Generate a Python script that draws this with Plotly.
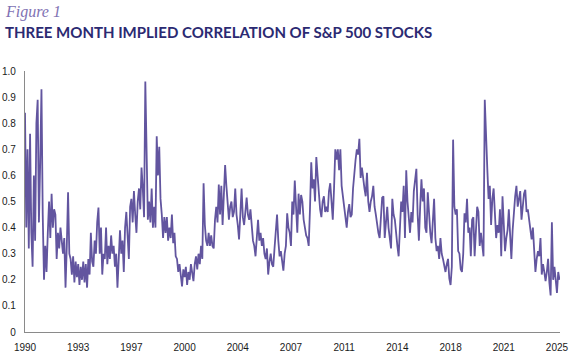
import pandas as pd
import plotly.graph_objects as go

# Monthly readings of the three-month implied correlation (Jan 1990 - Mar 2025)
values_1990s = [
    0.84, 0.40, 0.70, 0.32, 0.76, 0.38, 0.25, 0.60, 0.35, 0.80, 0.89, 0.42,   # 1990
    0.65, 0.93, 0.45, 0.20, 0.33, 0.23, 0.38, 0.50, 0.36, 0.53, 0.40, 0.47,   # 1991
    0.45, 0.28, 0.38, 0.32, 0.40, 0.33, 0.30, 0.36, 0.17, 0.33, 0.535, 0.30,  # 1992
    0.28, 0.22, 0.29, 0.19, 0.27, 0.21, 0.26, 0.18, 0.25, 0.20, 0.27, 0.19,   # 1993
    0.26, 0.17, 0.28, 0.22, 0.38, 0.27, 0.25, 0.35, 0.30, 0.42, 0.477, 0.30,  # 1994
    0.40, 0.22, 0.30, 0.28, 0.40, 0.26, 0.33, 0.28, 0.37, 0.30, 0.33, 0.25,   # 1995
    0.30, 0.17, 0.28, 0.39, 0.30, 0.35, 0.23, 0.40, 0.46, 0.35, 0.28, 0.48,   # 1996
    0.51, 0.42, 0.54, 0.45, 0.38, 0.50, 0.55, 0.47, 0.63, 0.55, 0.44, 0.96,   # 1997
    0.66, 0.43, 0.50, 0.42, 0.55, 0.40, 0.48, 0.40, 0.75, 0.60, 0.71, 0.51,   # 1998
    0.45, 0.36, 0.44, 0.38, 0.44, 0.35, 0.40, 0.36, 0.45, 0.34, 0.38, 0.29,   # 1999
]
values_2000s = [
    0.28, 0.23, 0.26, 0.20, 0.175, 0.24, 0.21, 0.25, 0.18, 0.23, 0.20, 0.26,  # 2000
    0.22, 0.195, 0.26, 0.29, 0.24, 0.30, 0.26, 0.33, 0.28, 0.57, 0.41, 0.35,  # 2001
    0.33, 0.38, 0.33, 0.37, 0.33, 0.32, 0.43, 0.48, 0.42, 0.565, 0.45, 0.56,  # 2002
    0.41, 0.52, 0.64, 0.56, 0.47, 0.43, 0.48, 0.50, 0.44, 0.46, 0.55, 0.45,   # 2003
    0.41, 0.355, 0.45, 0.55, 0.44, 0.41, 0.46, 0.515, 0.45, 0.43, 0.47, 0.40, # 2004
    0.35, 0.33, 0.29, 0.36, 0.43, 0.35, 0.38, 0.33, 0.36, 0.30, 0.28, 0.32,   # 2005
    0.22, 0.27, 0.30, 0.26, 0.25, 0.32, 0.38, 0.45, 0.35, 0.29, 0.31, 0.26,   # 2006
    0.235, 0.30, 0.33, 0.455, 0.40, 0.38, 0.33, 0.50, 0.45, 0.58, 0.45, 0.38, # 2007
    0.53, 0.45, 0.525, 0.50, 0.43, 0.40, 0.37, 0.36, 0.33, 0.47, 0.65, 0.55,  # 2008
    0.585, 0.50, 0.67, 0.60, 0.53, 0.47, 0.44, 0.50, 0.52, 0.46, 0.48, 0.46,  # 2009
]
values_2010s = [
    0.54, 0.57, 0.50, 0.43, 0.55, 0.70, 0.66, 0.70, 0.62, 0.70, 0.56, 0.52,   # 2010
    0.50, 0.45, 0.40, 0.46, 0.49, 0.44, 0.45, 0.55, 0.62, 0.66, 0.70, 0.68,   # 2011
    0.74, 0.59, 0.63, 0.58, 0.55, 0.52, 0.61, 0.50, 0.46, 0.50, 0.52, 0.56,   # 2012
    0.48, 0.45, 0.40, 0.38, 0.36, 0.46, 0.515, 0.52, 0.36, 0.42, 0.48, 0.40,  # 2013
    0.36, 0.32, 0.51, 0.45, 0.43, 0.37, 0.33, 0.29, 0.40, 0.50, 0.46, 0.56,   # 2014
    0.36, 0.62, 0.50, 0.45, 0.38, 0.46, 0.42, 0.54, 0.58, 0.625, 0.45, 0.35,  # 2015
    0.48, 0.585, 0.50, 0.55, 0.40, 0.38, 0.535, 0.45, 0.38, 0.34, 0.45, 0.51, # 2016
    0.36, 0.31, 0.33, 0.28, 0.36, 0.30, 0.28, 0.25, 0.23, 0.26, 0.28, 0.205,  # 2017
    0.18, 0.25, 0.737, 0.48, 0.45, 0.47, 0.31, 0.30, 0.24, 0.23, 0.30, 0.455, # 2018
    0.42, 0.51, 0.38, 0.40, 0.29, 0.43, 0.44, 0.29, 0.40, 0.48, 0.46, 0.33,   # 2019
]
values_2020s = [
    0.38, 0.33, 0.29, 0.89, 0.73, 0.625, 0.51, 0.56, 0.41, 0.51, 0.55, 0.42,  # 2020
    0.36, 0.41, 0.38, 0.47, 0.29, 0.52, 0.40, 0.31, 0.36, 0.39, 0.47, 0.35,   # 2021
    0.28, 0.39, 0.47, 0.52, 0.56, 0.48, 0.51, 0.54, 0.43, 0.50, 0.53, 0.545,  # 2022
    0.46, 0.47, 0.43, 0.40, 0.355, 0.40, 0.30, 0.23, 0.28, 0.31, 0.29, 0.36,  # 2023
    0.22, 0.26, 0.23, 0.195, 0.23, 0.28, 0.19, 0.14, 0.42, 0.20, 0.25, 0.19,  # 2024
    0.15, 0.23, 0.20,                                                         # 2025
]
correlation = values_1990s + values_2000s + values_2010s + values_2020s

dates = pd.date_range("1990-01-01", periods=len(correlation), freq="MS")
decimal_years = dates.year + (dates.month - 1) / 12.0

x_tick_values = [1990, 1993.5, 1997, 2000.5, 2004, 2007.5, 2011, 2014.5, 2018, 2021.5, 2025]
x_tick_labels = ["1990", "1993", "1997", "2000", "2004", "2007", "2011", "2014", "2018", "2021", "2025"]
y_tick_values = [0, 0.1, 0.2, 0.3, 0.4, 0.5, 0.6, 0.7, 0.8, 0.9, 1.0]
y_tick_labels = ["0", "0.1", "0.2", "0.3", "0.4", "0.5", "0.6", "0.7", "0.8", "0.9", "1.0"]

W, H = 573, 357
L, R, T, B = 25, 13, 71, 24.5
pw, ph = W - L - R, H - T - B


def px(x):
    return (x - L) / pw


def py(y):
    return (H - B - y) / ph


fig = go.Figure()
fig.add_trace(go.Scatter(
    x=decimal_years, y=correlation, mode="lines",
    line=dict(color="#62559F", width=1.8),
    hoverinfo="skip",
))

fig.update_layout(
    width=W, height=H,
    margin=dict(l=L, r=R, t=T, b=B),
    paper_bgcolor="white", plot_bgcolor="white",
    showlegend=False,
    font=dict(family="Liberation Sans, Arial, sans-serif", size=10, color="#1a1a1a"),
    xaxis=dict(
        range=[1990, 2025.2], tickmode="array", tickvals=x_tick_values, ticktext=x_tick_labels,
        showgrid=False, zeroline=False, showline=True, linecolor="#8a8a8a", linewidth=1.2,
        ticks="", ticklabelstandoff=6, tickfont=dict(size=10), automargin=False,
    ),
    yaxis=dict(
        range=[0, 1], tickmode="array", tickvals=y_tick_values, ticktext=y_tick_labels,
        showgrid=False, zeroline=False, showline=True, linecolor="#8a8a8a", linewidth=1.2,
        ticks="", ticklabelstandoff=6, tickfont=dict(size=10), automargin=False,
    ),
    annotations=[
        dict(text="Figure 1", xref="paper", yref="paper", x=px(3), y=py(11.5),
             xanchor="left", yanchor="middle", showarrow=False,
             font=dict(family="Liberation Serif, serif", size=16, color="#7F72B4"),
             ),
        dict(text="<b>THREE MONTH IMPLIED CORRELATION OF S&amp;P 500 STOCKS</b>", xref="paper", yref="paper",
             x=px(3), y=py(31.5), xanchor="left", yanchor="middle", showarrow=False,
             font=dict(family="Lato, Open Sans, sans-serif", size=15, color="#2B2A72")),
    ],
)
fig.layout.annotations[0].font.style = "italic"

fig.write_html("out.html", config={"displayModeBar": False},
               post_script="document.body.style.margin='0px';")
